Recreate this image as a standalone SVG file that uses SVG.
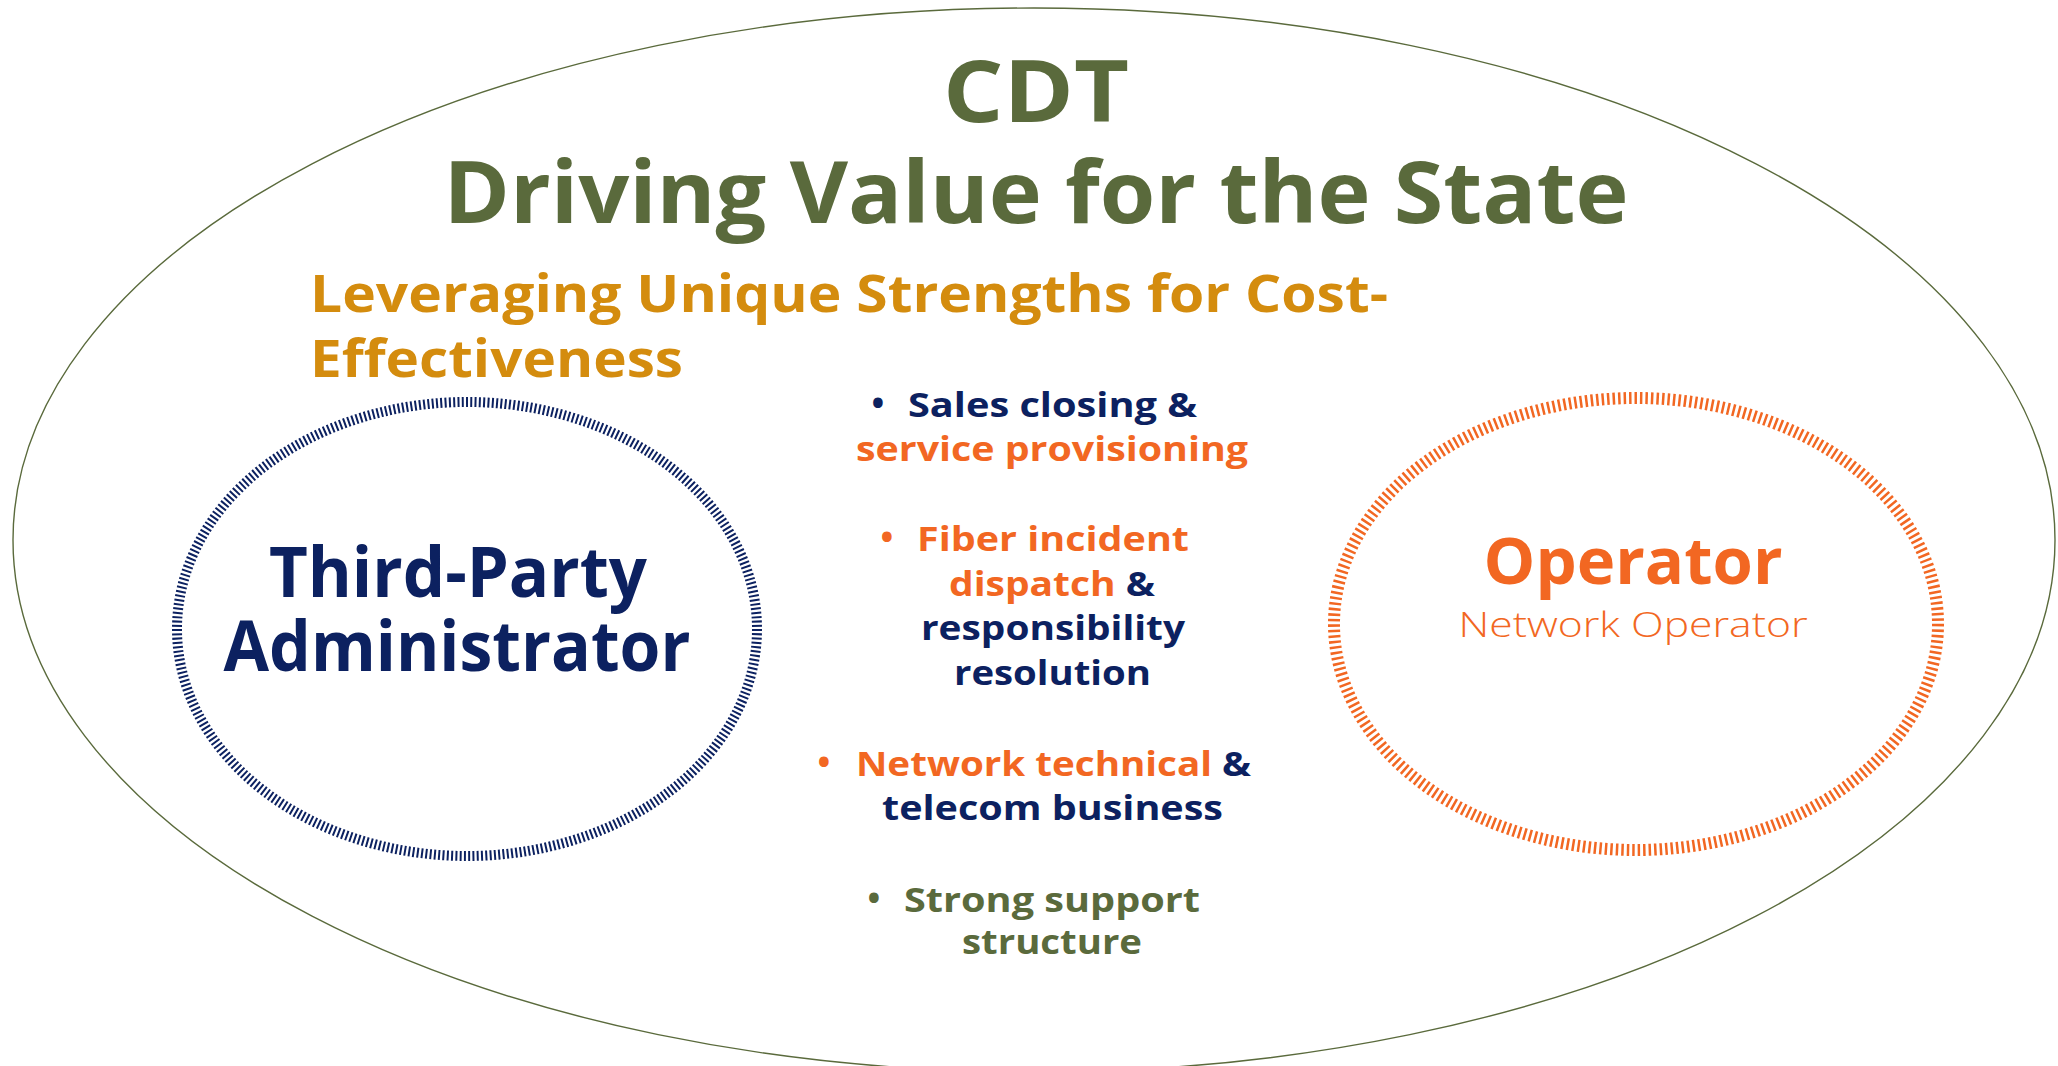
<svg xmlns="http://www.w3.org/2000/svg" width="2058" height="1066" viewBox="0 0 2058 1066">
<style>
text{font-family:"Open Sans","Liberation Sans",sans-serif;font-weight:700;}
.title{fill:#5a6a3c;font-size:86px;text-anchor:middle;}
.sub{fill:#d48c0e;font-size:52px;}
.navy{fill:#0c2160;}
.orange{fill:#f26722;}
.olive{fill:#5a6a3c;}
.item{font-size:34px;}
.bullet{font-size:34px;text-anchor:middle;}
.light{font-weight:300;}
</style>
<rect width="2058" height="1066" fill="#ffffff"/>
<g id="outer">
<ellipse cx="1034" cy="540" rx="1021" ry="532" fill="none" stroke="#5a6a3c" stroke-width="1.4"/>
</g>
<g id="title">
<text class="title" x="1036" y="122" textLength="186" lengthAdjust="spacingAndGlyphs">CDT</text>
<text class="title" x="1036" y="223" textLength="1185" lengthAdjust="spacingAndGlyphs">Driving Value for the State</text>
</g>
<g id="subtitle">
<text class="sub" x="310" y="312" textLength="1078" lengthAdjust="spacingAndGlyphs">Leveraging Unique Strengths for Cost-</text>
<text class="sub" x="310" y="377" textLength="373" lengthAdjust="spacingAndGlyphs">Effectiveness</text>
</g>
<g id="tpa">
<ellipse cx="467" cy="629" rx="290" ry="227" fill="none" stroke="#0c2160" stroke-width="10" stroke-dasharray="2 2.3"/>
<text class="navy" x="458" y="597" font-size="70" text-anchor="middle" textLength="378" lengthAdjust="spacingAndGlyphs">Third-Party</text>
<text class="navy" x="457" y="671" font-size="70" text-anchor="middle" textLength="467" lengthAdjust="spacingAndGlyphs">Administrator</text>
</g>
<g id="operator">
<ellipse cx="1636" cy="624" rx="302" ry="226" fill="none" stroke="#f26722" stroke-width="12" stroke-dasharray="2.5 3"/>
<text class="orange" x="1633" y="584" font-size="65" text-anchor="middle" textLength="299" lengthAdjust="spacingAndGlyphs">Operator</text>
<text class="orange light" x="1633" y="637" font-size="35" text-anchor="middle" textLength="349" lengthAdjust="spacingAndGlyphs">Network  Operator</text>
</g>
<g id="strengths">
<text class="bullet navy" x="878" y="415">•</text>
<text class="item navy" x="908" y="417" textLength="289" lengthAdjust="spacingAndGlyphs">Sales closing &amp;</text>
<text class="item orange" x="856" y="461" textLength="392" lengthAdjust="spacingAndGlyphs">service provisioning</text>

<text class="bullet orange" x="887" y="549">•</text>
<text class="item orange" x="917" y="551" textLength="272" lengthAdjust="spacingAndGlyphs">Fiber incident</text>
<text class="item" x="949" y="596" textLength="206" lengthAdjust="spacingAndGlyphs"><tspan class="orange">dispatch</tspan><tspan class="navy"> &amp;</tspan></text>
<text class="item navy" x="921" y="640" textLength="264" lengthAdjust="spacingAndGlyphs">responsibility</text>
<text class="item navy" x="954" y="685" textLength="197" lengthAdjust="spacingAndGlyphs">resolution</text>

<text class="bullet orange" x="824" y="774">•</text>
<text class="item" x="856" y="776" textLength="395" lengthAdjust="spacingAndGlyphs"><tspan class="orange">Network technical</tspan><tspan class="navy"> &amp;</tspan></text>
<text class="item navy" x="882" y="820" textLength="341" lengthAdjust="spacingAndGlyphs">telecom business</text>

<text class="bullet olive" x="874" y="910">•</text>
<text class="item olive" x="904" y="912" textLength="296" lengthAdjust="spacingAndGlyphs">Strong support</text>
<text class="item olive" x="962" y="954" textLength="180" lengthAdjust="spacingAndGlyphs">structure</text>
</g>
</svg>
